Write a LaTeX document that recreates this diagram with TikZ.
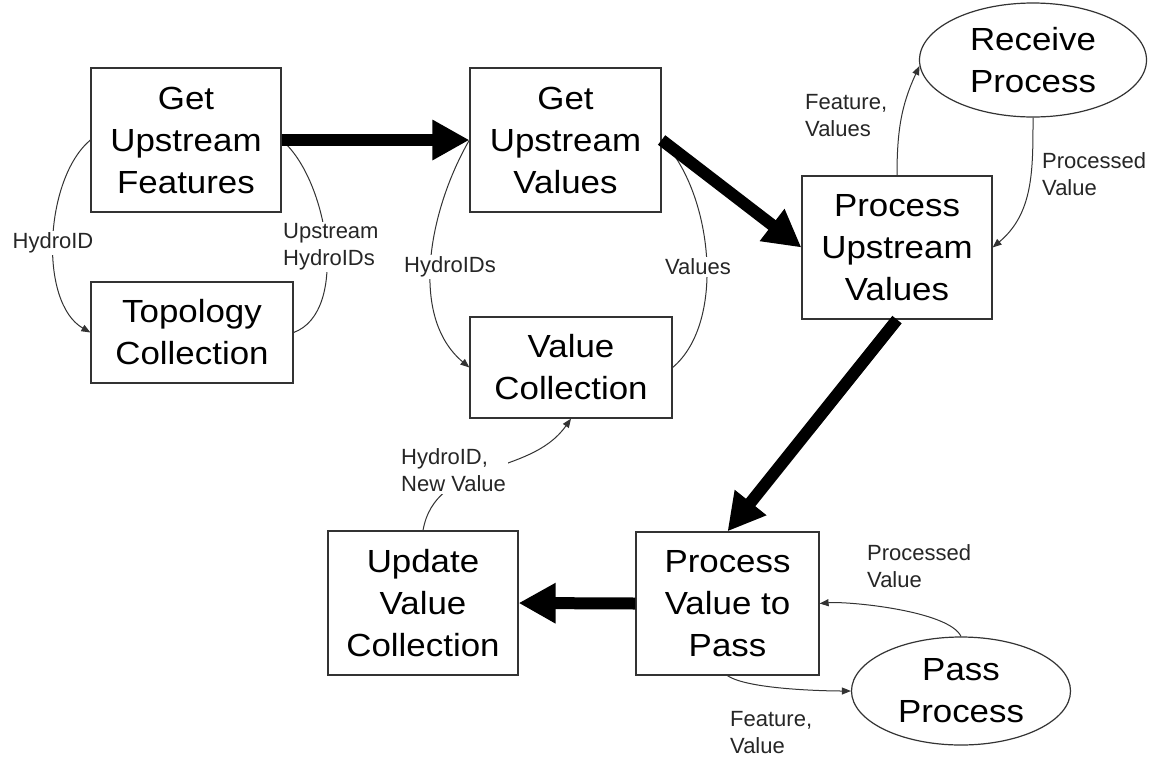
\documentclass[tikz,border=0pt]{standalone}
\usepackage{fontspec}
\setmainfont{Liberation Sans}[FakeStretch=1.09]
\newfontfamily\lblfont{Liberation Sans}
\usetikzlibrary{arrows.meta,shapes.geometric,calc}
\begin{document}
\begin{tikzpicture}[x=1pt,y=1pt,
  box/.style={draw=black!80,line width=1.2pt,inner sep=0pt,align=center,
    font=\fontsize{32}{42}\selectfont},
  oval/.style={box,ellipse},
  heavy/.style={line width=12pt,-{Triangle[length=37pt,width=38pt]}},
  conn/.style={draw=black!80,line width=1pt},
  connarrow/.style={conn,-{Triangle[length=9pt,width=7pt]}},
  lbl/.style={font=\lblfont\fontsize{22}{27}\selectfont,text=black!85,align=left,inner sep=2pt},
  onlbl/.style={lbl,fill=white}
]
\useasboundingbox[fill=white] (0,0) rectangle (1162,-764);

% boxes
\node[box,minimum width=190pt,minimum height=144pt] (GUF) at (186,-140) {Get\\Upstream\\Features};
\node[box,minimum width=202pt,minimum height=101pt] (Topo) at (192,-332.5) {Topology\\Collection};
\node[box,minimum width=191pt,minimum height=144pt] (GUV) at (565.5,-140) {Get\\Upstream\\Values};
\node[box,minimum width=202pt,minimum height=101pt] (VC) at (571,-367.5) {Value\\Collection};
\node[box,minimum width=190pt,minimum height=143pt] (PUV) at (897,-247.5) {Process\\Upstream\\Values};
\node[box,minimum width=183pt,minimum height=143pt] (PVP) at (727.5,-603.5) {Process\\Value to\\Pass};
\node[box,minimum width=190pt,minimum height=144pt] (UVC) at (423,-603) {Update\\Value\\Collection};
\node[oval,minimum width=227pt,minimum height=114pt] (RP) at (1033,-60) {Receive\\Process};
\node[oval,minimum width=219pt,minimum height=108pt] (PP) at (961,-691) {Pass\\Process};

% thin connectors
\draw[connarrow] (GUF.west) to[out=220,in=150,looseness=0.8] (Topo.west);
\draw[conn] (GUF.east) to[out=-40,in=20,looseness=0.8] (Topo.east);
\draw[connarrow] (GUV.west) to[out=240,in=140,looseness=0.9] (VC.west);
\draw[conn] (GUV.east) to[out=-45,in=40,looseness=0.8] (VC.east);
\draw[connarrow] (PUV.north) to[out=90,in=-115] (RP.183);
\draw[connarrow] (RP.south) to[out=-90,in=40] (PUV.east);
\draw[connarrow] (PP.north) to[out=115,in=5,looseness=0.5] (PVP.east);
\draw[connarrow] (PVP.south) to[out=-35,in=180,looseness=0.5] (PP.west);
\draw[connarrow] (UVC.north) to[out=80,in=-125] (VC.south);

% heavy arrows
\draw[heavy] (GUF.east) -- (GUV.west);
\draw[heavy] (GUV.east) -- (PUV.west);
\draw[heavy] (PUV.south) -- (PVP.north);
\draw[heavy] (PVP.west) -- (UVC.east);

% labels
\node[onlbl] (l1) at (53,-243) {HydroID};
\node[onlbl,anchor=west] (l2) at (281,-247) {Upstream\\HydroIDs};
\node[onlbl] (l3) at (450,-267) {HydroIDs};
\node[onlbl] (l4) at (698,-267) {Values};
\node[lbl,anchor=west] (l5) at (803,-116) {Feature,\\Values};
\node[lbl,anchor=west] (l6) at (1040,-174) {Processed\\Value};
\node[lbl,anchor=west] (l7) at (865,-566) {Processed\\Value};
\node[lbl,anchor=west] (l8) at (728,-733) {Feature,\\Value};
\node[onlbl,anchor=west] (l9) at (399,-470) {HydroID,\\New Value};
\end{tikzpicture}
\end{document}
